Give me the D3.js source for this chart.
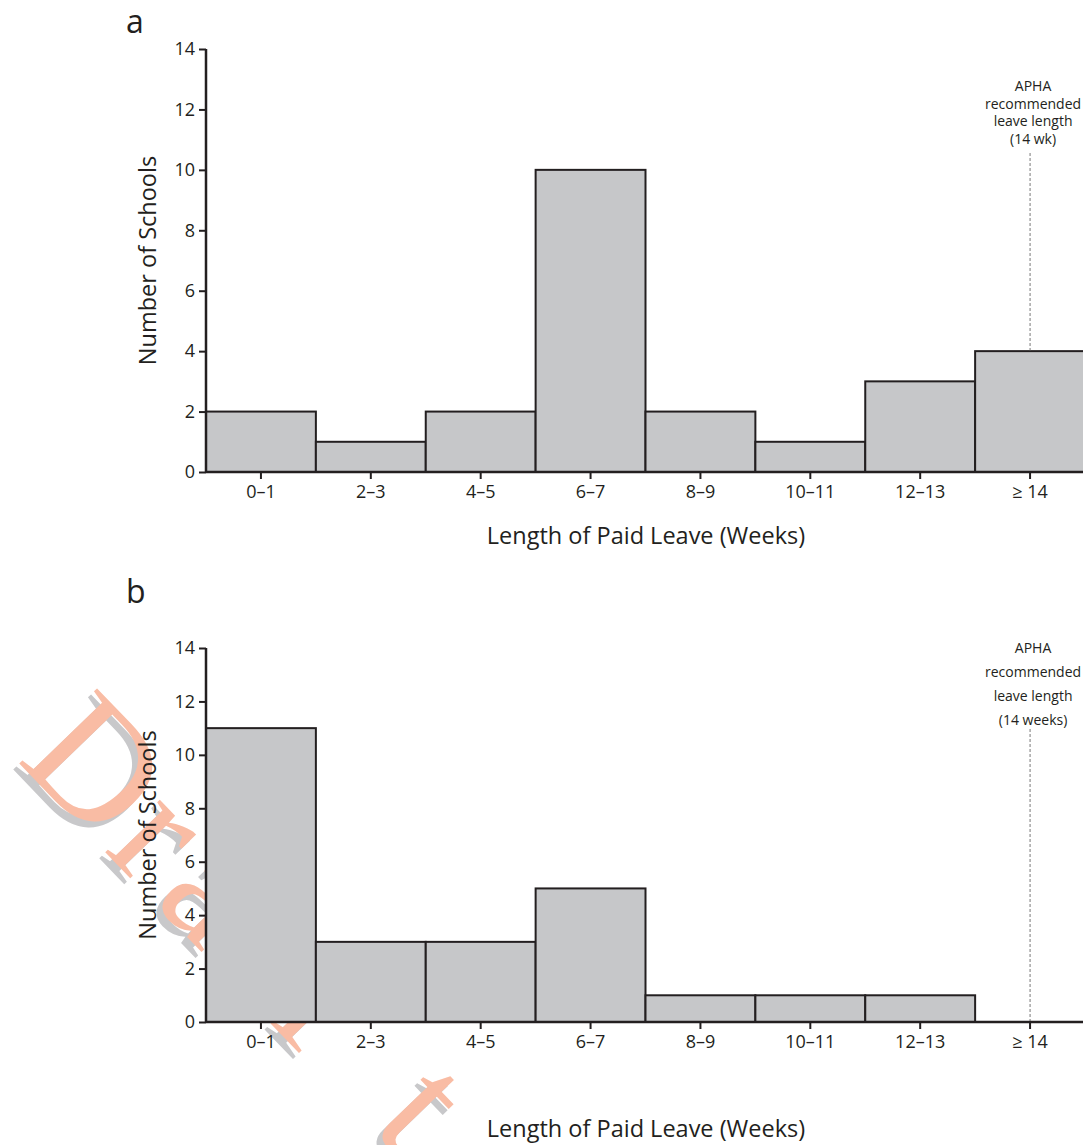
<!DOCTYPE html>
<html>
<head>
<meta charset="utf-8">
<script src="https://cdn.jsdelivr.net/npm/d3@7"></script>
<style>
  body { margin: 0; background: #fff; }
  svg { display: block; font-family: "Open Sans", "Noto Sans", sans-serif; }
</style>
</head>
<body>
<svg id="chart" width="1083" height="1145"></svg>
<script>
// data
const categories = ["0–1", "2–3", "4–5", "6–7", "8–9", "10–11", "12–13", "≥ 14"];
const countsA = [2, 1, 2, 10, 2, 1, 3, 4];
const countsB = [11, 3, 3, 5, 1, 1, 1, 0];
const yTicks = [0, 2, 4, 6, 8, 10, 12, 14];
const noteA = ["APHA", "recommended", "leave length", "(14 wk)"];
const noteB = ["APHA", "recommended", "leave length", "(14 weeks)"];
const recommendedCat = "≥ 14";

const SVG = d3.select("#chart");
const BAR_FILL = "#c6c7c9";
const INK = "#231f20";

// watermark behind everything
const wm = SVG.append("g").attr("font-family", "'Liberation Serif', 'DejaVu Serif', serif")
    .attr("font-size", 165);
[["#c8c8ca", -6, 6], ["#f9bca4", 0, 0]].forEach(([c, ox, oy]) => {
    wm.append("text").text("Draft")
        .attr("dx", "0 6 16 90 95")
        .attr("transform", `translate(${16 + ox},${760 + oy}) rotate(46)`)
        .attr("fill", c);
});

const X = d3.scaleBand().domain(categories).range([206, 1085]).paddingInner(0).paddingOuter(0);

/** 画一个面板 **/
function draw_panel(p) {
    const Y = d3.scaleLinear().domain([0, 14]).range([p.y0, p.y14]);
    const g = SVG.append("g");

    g.append("text").text(p.letter)
        .attr("x", 126).attr("y", p.letterY)
        .attr("font-size", 32).attr("fill", INK);

    // bars
    g.selectAll("rect.bar").data(p.counts.map((v, i) => ({c: categories[i], v: v})).filter(d => d.v > 0))
        .join("rect")
        .attr("class", "bar")
        .attr("x", d => X(d.c))
        .attr("y", d => Y(d.v))
        .attr("width", X.bandwidth())
        .attr("height", d => Y(0) - Y(d.v))
        .attr("fill", BAR_FILL)
        .attr("stroke", INK)
        .attr("stroke-width", 2);

    // recommended-length marker
    const xr = X(recommendedCat) + X.bandwidth() / 2;
    const vr = p.counts[categories.indexOf(recommendedCat)];
    g.append("line")
        .attr("x1", xr).attr("x2", xr)
        .attr("y1", p.dashTop).attr("y2", Y(vr))
        .attr("stroke", "#555").attr("stroke-width", 0.8)
        .attr("stroke-dasharray", "3,2");
    g.append("g").selectAll("text").data(p.note).join("text")
        .text(d => d)
        .attr("x", xr + 3)
        .attr("y", (d, i) => p.noteY + i * p.noteStep)
        .attr("text-anchor", "middle")
        .attr("font-size", p.noteSize)
        .attr("fill", INK);

    // axes
    const yAxis = g.append("g")
        .attr("transform", `translate(${X.range()[0]},0)`)
        .call(d3.axisLeft(Y).tickValues(yTicks).tickSize(7).tickPadding(4));
    const xAxis = g.append("g")
        .attr("transform", `translate(0,${Y(0)})`)
        .call(d3.axisBottom(X).tickSize(7).tickPadding(6));
    [yAxis, xAxis].forEach(a => {
        a.select(".domain").attr("stroke", INK).attr("stroke-width", 2.5);
        a.selectAll(".tick line").attr("stroke", INK).attr("stroke-width", 2);
        a.selectAll(".tick text").attr("font-size", 18).attr("fill", INK)
            .attr("font-family", "'Open Sans', sans-serif");
    });
    xAxis.select(".domain").attr("d", `M${X.range()[0]},0H1083`);
    yAxis.select(".domain").attr("d", `M0,${Y(14)}V${Y(0)}`);

    g.append("text").text("Number of Schools")
        .attr("transform", `translate(156,${(Y(0) + Y(14)) / 2}) rotate(-90)`)
        .attr("text-anchor", "middle")
        .attr("font-size", 23.5).attr("fill", INK);
    g.append("text").text("Length of Paid Leave (Weeks)")
        .attr("x", 646).attr("y", p.titleY)
        .attr("text-anchor", "middle")
        .attr("font-size", 23.5).attr("fill", INK);
}

draw_panel({letter: "a", letterY: 33, counts: countsA, y0: 472, y14: 49,
    note: noteA, noteY: 91, noteStep: 17.7, noteSize: 14, dashTop: 153, titleY: 544});
draw_panel({letter: "b", letterY: 603, counts: countsB, y0: 1022, y14: 648,
    note: noteB, noteY: 653, noteStep: 24, noteSize: 14, dashTop: 729, titleY: 1137});
</script>
</body>
</html>
